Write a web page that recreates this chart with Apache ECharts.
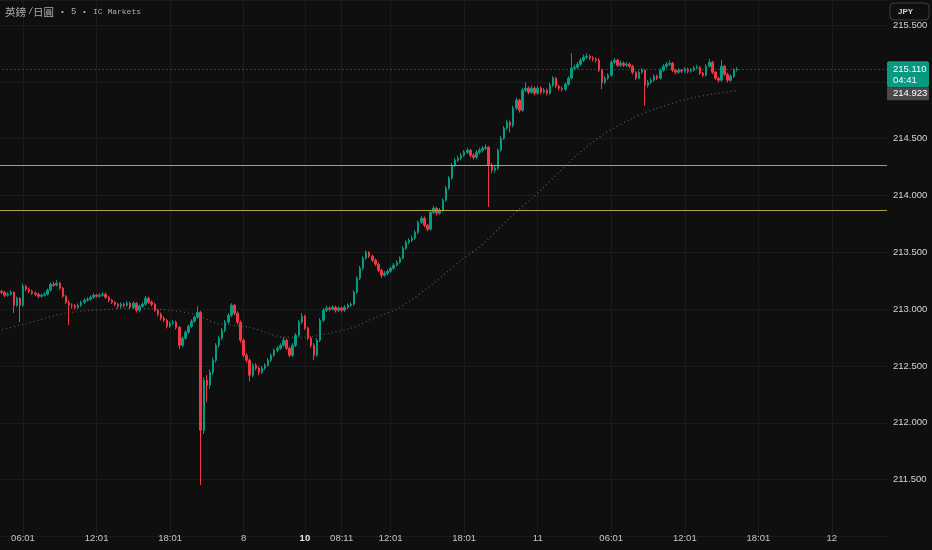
<!DOCTYPE html>
<html><head><meta charset="utf-8">
<script src="https://cdn.jsdelivr.net/npm/echarts@6/dist/echarts.min.js"></script>
<style>html,body{margin:0;padding:0;background:#0f0f0f;}#c{width:932px;height:550px;}</style>
</head><body><div id="c"></div>
<script>
// ---- data (15-minute aggregation) ----
const firstOpen = 213.170;
const closes = [
213.157,213.148,213.122,213.131,213.148,213.034,213.096,213.034,213.201,213.175,
213.157,213.140,213.131,213.113,213.122,213.131,213.166,213.219,213.210,213.228,
213.184,213.113,213.060,213.034,213.030,213.016,213.034,213.060,213.078,213.087,
213.104,213.122,213.113,213.122,213.131,213.104,213.078,213.060,213.043,213.025,
213.043,213.034,213.052,213.016,213.052,212.990,213.025,213.043,213.096,213.060,
213.043,212.990,212.955,212.920,212.902,212.849,212.876,212.885,212.840,212.682,
212.744,212.797,212.849,212.893,212.928,212.972,211.934,212.374,212.330,212.444,
212.550,212.682,212.744,212.814,212.885,212.946,213.034,212.964,212.885,212.726,
212.594,212.550,212.418,212.506,212.480,212.444,212.480,212.506,212.550,212.594,
212.638,212.656,212.682,212.726,212.656,212.594,212.682,212.770,212.885,212.937,
212.832,212.744,212.682,212.594,212.726,212.902,212.990,213.008,212.999,213.016,
212.990,213.008,212.990,213.016,213.034,213.043,213.148,213.272,213.360,213.448,
213.500,213.465,213.430,213.395,213.342,213.298,213.316,213.333,213.360,213.386,
213.412,213.448,213.536,213.588,213.606,213.624,213.676,213.764,213.800,213.738,
213.703,213.852,213.888,213.844,213.870,213.958,214.064,214.152,214.266,214.310,
214.328,214.354,214.380,214.398,214.354,214.336,214.380,214.398,214.416,214.424,
214.266,214.222,214.240,214.398,214.504,214.592,214.644,214.618,214.768,214.838,
214.750,214.926,214.944,214.908,214.944,214.900,214.944,214.908,214.926,214.900,
214.970,215.032,214.961,214.944,214.935,214.979,215.032,215.120,215.128,215.155,
215.190,215.216,215.225,215.208,215.200,215.190,215.102,214.996,215.032,215.058,
215.172,215.190,215.146,215.164,215.146,215.155,215.137,215.084,215.032,215.084,
215.102,214.970,214.996,215.014,215.049,215.032,215.102,215.137,215.155,215.164,
215.102,215.084,215.102,215.093,215.111,215.093,215.102,215.120,215.128,215.076,
215.058,215.137,215.172,215.084,215.032,215.014,215.137,215.067,215.014,215.049,
215.102,215.110];
const highs = [
213.185,213.170,213.160,213.150,213.165,213.155,213.110,213.105,213.225,213.215,
213.190,213.170,213.155,213.145,213.140,213.150,213.180,213.235,213.240,213.255,
213.240,213.195,213.125,213.075,213.050,213.045,213.050,213.075,213.095,213.105,
213.120,213.140,213.135,213.140,213.150,213.145,213.115,213.090,213.070,213.055,
213.060,213.055,213.070,213.065,213.070,213.060,213.040,213.060,213.115,213.110,
213.075,213.055,213.000,212.970,212.935,212.915,212.895,212.905,212.900,212.850,
212.760,212.815,212.865,212.910,212.945,213.025,212.985,212.400,212.420,212.470,
212.575,212.700,212.765,212.835,212.905,212.965,213.052,213.045,212.980,212.900,
212.740,212.615,212.565,212.525,212.525,212.495,212.500,212.525,212.570,212.610,
212.655,212.675,212.700,212.752,212.740,212.670,212.700,212.790,212.905,212.965,
212.950,212.845,212.760,212.700,212.745,212.920,213.010,213.030,213.025,213.035,
213.030,213.025,213.020,213.035,213.050,213.060,213.165,213.290,213.380,213.465,
213.518,213.510,213.480,213.445,213.410,213.355,213.335,213.350,213.375,213.405,
213.430,213.465,213.555,213.605,213.625,213.645,213.695,213.780,213.822,213.815,
213.750,213.870,213.910,213.900,213.890,213.975,214.085,214.170,214.285,214.330,
214.350,214.375,214.400,214.420,214.410,214.370,214.400,214.420,214.435,214.450,
214.435,214.285,214.260,214.415,214.525,214.610,214.665,214.660,214.790,214.860,
214.850,214.945,214.995,214.960,214.965,214.960,214.965,214.960,214.945,214.940,
214.990,215.050,215.045,214.975,214.960,214.995,215.050,215.252,215.150,215.175,
215.210,215.240,215.250,215.240,215.225,215.215,215.205,215.115,215.050,215.075,
215.190,215.210,215.205,215.185,215.180,215.175,215.170,215.150,215.095,215.100,
215.120,215.110,215.015,215.035,215.065,215.065,215.120,215.155,215.175,215.190,
215.175,215.115,215.120,215.115,215.130,215.125,215.120,215.140,215.150,215.140,
215.090,215.155,215.200,215.185,215.095,215.045,215.190,215.150,215.080,215.065,
215.120,215.130];
const lows = [
213.140,213.130,213.105,213.110,213.120,212.965,213.020,212.885,213.020,213.160,
213.140,213.125,213.115,213.095,213.100,213.110,213.120,213.155,213.195,213.200,
213.170,213.100,213.045,212.860,213.005,212.995,213.000,213.020,213.045,213.065,
213.075,213.090,213.100,213.100,213.110,213.090,213.060,213.045,213.025,213.005,
213.010,213.015,213.020,213.000,213.000,212.970,212.975,213.010,213.030,213.045,
213.025,212.975,212.935,212.900,212.885,212.830,212.835,212.860,212.820,212.648,
212.665,212.730,212.785,212.835,212.880,212.915,211.452,211.900,212.180,212.300,
212.420,212.530,212.660,212.725,212.795,212.865,212.930,212.945,212.865,212.705,
212.575,212.530,212.365,212.400,212.460,212.420,212.430,212.465,212.495,212.535,
212.580,212.620,212.640,212.670,212.640,212.575,212.580,212.665,212.755,212.870,
212.815,212.725,212.660,212.550,212.580,212.710,212.885,212.975,212.980,212.985,
212.970,212.975,212.970,212.975,213.000,213.020,213.030,213.135,213.255,213.345,
213.435,213.450,213.415,213.380,213.325,213.275,213.285,213.300,213.320,213.345,
213.375,213.400,213.435,213.520,213.570,213.590,213.610,213.660,213.750,213.720,
213.685,213.690,213.835,213.825,213.830,213.855,213.945,214.050,214.140,214.250,
214.295,214.310,214.340,214.365,214.335,214.315,214.320,214.365,214.380,214.400,
213.900,214.195,214.200,214.225,214.385,214.490,214.575,214.555,214.600,214.750,
214.730,214.735,214.910,214.890,214.895,214.880,214.885,214.890,214.895,214.880,
214.885,214.955,214.945,214.925,214.915,214.920,214.965,215.020,215.100,215.110,
215.140,215.175,215.200,215.190,215.180,215.170,215.085,214.935,214.980,215.015,
215.045,215.155,215.130,215.130,215.130,215.130,215.120,215.065,215.015,215.020,
215.070,214.790,214.950,214.980,215.000,215.015,215.020,215.090,215.120,215.140,
215.085,215.065,215.070,215.075,215.080,215.075,215.080,215.090,215.110,215.060,
215.040,215.045,215.125,215.065,215.015,214.995,215.000,215.050,214.995,215.000,
215.035,215.090];

// moving average read at sampled bar indices
const maIdx = [0,7,22,36,44,52,64,71,82,88,93,101,105,115,121,131,142,151,158,166,177,188,197,207,215,226,235,241];
const maVal = [212.814,212.858,212.964,212.999,213.008,212.999,212.955,212.876,212.840,212.788,212.752,212.752,212.770,212.832,212.902,213.016,213.228,213.430,213.571,213.782,214.046,214.336,214.530,214.680,214.768,214.856,214.900,214.923];

// time axis labels (bar index -> text)
const slotCount = 291;
const labelIdx = [8,32,56,80,100,112,128,152,176,200,224,248,272];
const labelText = ['06:01','12:01','18:01','8','10','08:11','12:01','18:01','11','06:01','12:01','18:01','12'];
const boldLabels = ['10'];

// horizontal levels and price tags
const levels = [214.266, 213.866];
const lastPrice = 215.110;
const maLast = 214.923;
const countdown = '04:41';
const currency = 'JPY';
const titleParts = ['英鎊', '/', '日圓', '•', '5', '•', 'IC Markets'];

// ---- build ----
const cats = new Array(slotCount).fill('');
labelIdx.forEach((k, j) => { cats[k] = labelText[j]; });
const opens = [firstOpen].concat(closes.slice(0, -1));
const ohlc = closes.map((c, i) => [opens[i], c, lows[i], highs[i]]);
const maData = maIdx.map((k, j) => [k, maVal[j]]);

const UP = '#089981', DOWN = '#f23645';
const FONT = '"Liberation Sans", Arial, sans-serif';

const chart = echarts.init(document.getElementById('c'), null, {renderer: 'canvas'});
chart.setOption({
  backgroundColor: '#0f0f0f',
  animation: false,
  grid: {left: -1.5, right: 45, top: 0, bottom: 13.6, outerBoundsMode: 'none', containLabel: false},
  xAxis: {
    type: 'category', data: cats, boundaryGap: false,
    axisLine: {show: false}, axisTick: {show: false},
    axisLabel: {
      interval: 0, color: '#c2c5cc', fontSize: 9.5, fontFamily: FONT, margin: 2, verticalAlign: 'middle',
      formatter: v => boldLabels.indexOf(v) >= 0 ? '{b|' + v + '}' : v,
      rich: {b: {fontWeight: 'bold', color: '#e6e8ee', fontSize: 9.5, fontFamily: FONT}}
    },
    splitLine: {show: true, interval: (i, v) => v !== '', lineStyle: {color: '#1b1b1b', width: 1}}
  },
  yAxis: {
    type: 'value', position: 'right', min: 211, max: 215.72, interval: 0.5, scale: true,
    axisLine: {show: false}, axisTick: {show: false},
    splitLine: {lineStyle: {color: '#1b1b1b', width: 1}},
    axisLabel: {color: '#d1d4dc', fontSize: 9.5, fontFamily: FONT, margin: 6,
      showMinLabel: false, showMaxLabel: false, formatter: v => v.toFixed(3)}
  },
  series: [
    {
      type: 'line', data: maData, smooth: 0.3, showSymbol: false, silent: true, z: 1,
      lineStyle: {color: '#5a5a5a', width: 1.2, type: [1, 3]}
    },
    {
      type: 'candlestick', data: ohlc, barWidth: 2, z: 3,
      itemStyle: {color: UP, color0: DOWN, borderColor: UP, borderColor0: DOWN, borderWidth: 1},
      markLine: {
        silent: true, symbol: 'none', label: {show: false}, animation: false,
        data: [
          {yAxis: levels[0], lineStyle: {color: '#b5a444', width: 1, type: 'solid'}},
          {yAxis: levels[1], lineStyle: {color: '#b5a444', width: 1, type: 'solid'}},
          {yAxis: lastPrice, lineStyle: {color: UP, width: 1, type: [1, 3]}}
        ]
      }
    }
  ]
});

const yL = chart.convertToPixel({yAxisIndex: 0}, lastPrice);
const tx = (x, y, text, opt) => ({type: 'text', x: x, y: y, z: 100, style: Object.assign({text: text, fill: '#b2b5be', fontSize: 10, verticalAlign: 'middle', fontFamily: FONT}, opt || {})});
const rc = (shape, style) => ({type: 'rect', z: 99, shape: shape, style: style});
chart.setOption({
  graphic: [
    rc({x: 887, y: 0, width: 45, height: 21}, {fill: '#0f0f0f'}),
    rc({x: 890, y: 3, width: 39, height: 17, r: 4}, {fill: '#0f0f0f', stroke: '#3b3e46', lineWidth: 1}),
    tx(898, 12, currency, {fill: '#d1d4dc', fontSize: 8, fontWeight: 'bold'}),
    rc({x: 887, y: yL - 8, width: 42, height: 26, r: 2}, {fill: UP}),
    tx(893, yL + 0.5, lastPrice.toFixed(3), {fill: '#ffffff', fontSize: 9.5}),
    tx(893, yL + 11.5, countdown, {fill: '#ffffff', fontSize: 9.5}),
    rc({x: 887, y: yL + 18, width: 42, height: 13}, {fill: '#4a4a4a'}),
    tx(893, yL + 24.5, maLast.toFixed(3), {fill: '#ffffff', fontSize: 9.5}),
    tx(5, 12, titleParts[0], {fontFamily: '"Noto Sans CJK TC", sans-serif', fontSize: 10.5, fill: '#a9acb4'}),
    tx(28, 12, titleParts[1], {fontFamily: '"Liberation Mono", monospace', fontSize: 9, fill: '#a9acb4'}),
    tx(33, 12, titleParts[2], {fontFamily: '"Noto Sans CJK TC", sans-serif', fontSize: 10.5, fill: '#a9acb4'}),
    tx(60, 12, titleParts[3], {fontFamily: '"Liberation Mono", monospace', fontSize: 8, fill: '#a9acb4'}),
    tx(71, 12, titleParts[4], {fontFamily: '"Liberation Mono", monospace', fontSize: 9, fill: '#a9acb4'}),
    tx(82, 12, titleParts[5], {fontFamily: '"Liberation Mono", monospace', fontSize: 8, fill: '#a9acb4'}),
    tx(93, 12, titleParts[6], {fontFamily: '"Liberation Mono", monospace', fontSize: 8, fill: '#a9acb4'})
  ]
});
</script></body></html>
